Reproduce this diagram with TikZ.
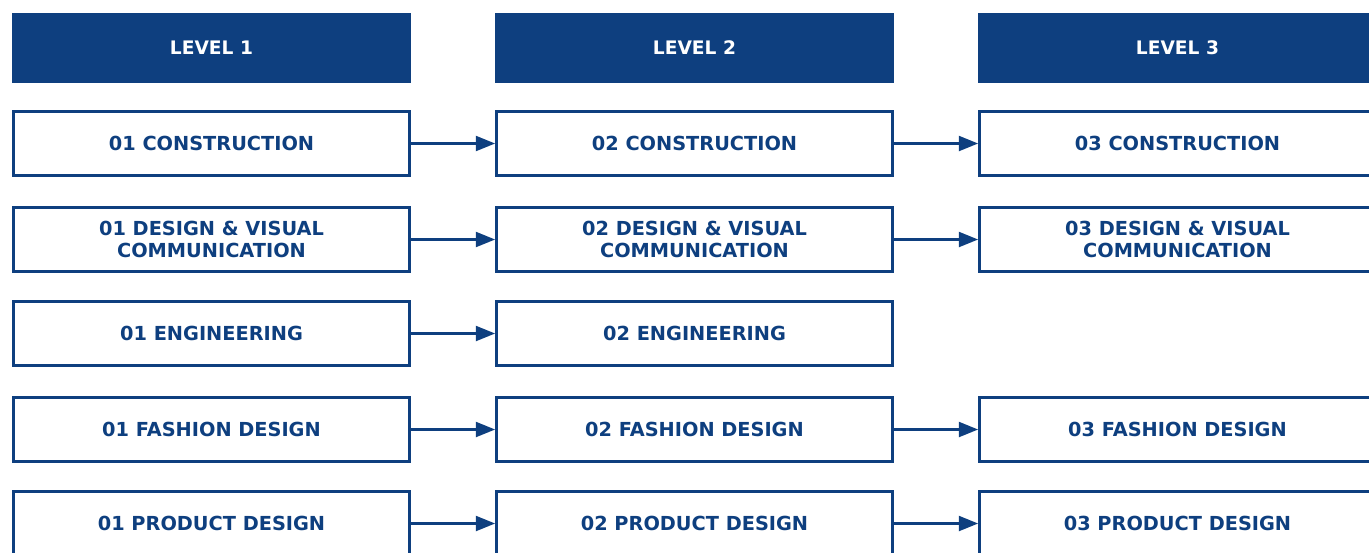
\documentclass[tikz,border=0pt]{standalone}
\usepackage{fontspec}
\setmainfont{DejaVu Sans}
\usetikzlibrary{arrows.meta}
\definecolor{lvblue}{HTML}{0E3F7F}
\tikzset{
  levelhead/.style={fill=lvblue, text=white, minimum width=7.98cm, minimum height=1.4cm,
    font=\bfseries\fontsize{10.6}{12}\selectfont},
  course/.style={draw=lvblue, line width=1.6pt, fill=white, text=lvblue, align=center,
    minimum width=7.92cm, minimum height=1.28cm, font=\bfseries\fontsize{11}{12.5}\selectfont},
  nextlevel/.style={-{Triangle[length=11pt,width=8.5pt]}, line width=1.4pt, color=lvblue}
}
\begin{document}
\begin{tikzpicture}[x=0.02cm, y=-0.02cm]
\clip (0,0) rectangle (1369,552);
\node[levelhead] (L1) at (211.5, 48) {LEVEL 1};
\node[levelhead] (L2) at (694.5, 48) {LEVEL 2};
\node[levelhead] (L3) at (1177.5, 48) {LEVEL 3};
\node[course] (con1) at (211.5, 143.5) {01 CONSTRUCTION};
\node[course] (con2) at (694.5, 143.5) {02 CONSTRUCTION};
\node[course] (con3) at (1177.5, 143.5) {03 CONSTRUCTION};
\node[course] (dvc1) at (211.5, 239.5) {01 DESIGN \& VISUAL\\COMMUNICATION};
\node[course] (dvc2) at (694.5, 239.5) {02 DESIGN \& VISUAL\\COMMUNICATION};
\node[course] (dvc3) at (1177.5, 239.5) {03 DESIGN \& VISUAL\\COMMUNICATION};
\node[course] (eng1) at (211.5, 333.5) {01 ENGINEERING};
\node[course] (eng2) at (694.5, 333.5) {02 ENGINEERING};
\node[course] (fas1) at (211.5, 429.5) {01 FASHION DESIGN};
\node[course] (fas2) at (694.5, 429.5) {02 FASHION DESIGN};
\node[course] (fas3) at (1177.5, 429.5) {03 FASHION DESIGN};
\node[course] (pro1) at (211.5, 523.5) {01 PRODUCT DESIGN};
\node[course] (pro2) at (694.5, 523.5) {02 PRODUCT DESIGN};
\node[course] (pro3) at (1177.5, 523.5) {03 PRODUCT DESIGN};
\path [nextlevel] (con1) edge (con2);
\path [nextlevel] (con2) edge (con3);
\path [nextlevel] (dvc1) edge (dvc2);
\path [nextlevel] (dvc2) edge (dvc3);
\path [nextlevel] (eng1) edge (eng2);
\path [nextlevel] (fas1) edge (fas2);
\path [nextlevel] (fas2) edge (fas3);
\path [nextlevel] (pro1) edge (pro2);
\path [nextlevel] (pro2) edge (pro3);
\end{tikzpicture}
\end{document}
